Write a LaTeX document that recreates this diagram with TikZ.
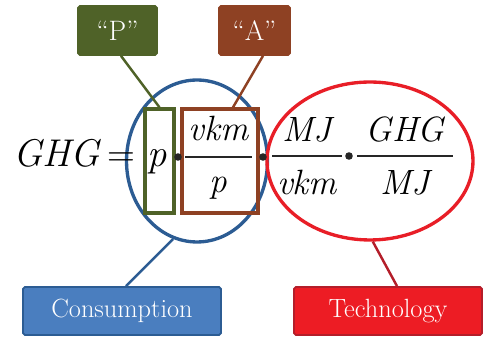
\documentclass[tikz,border=0pt]{standalone}
\usepackage{fontspec}
\usetikzlibrary{shapes.geometric}
\definecolor{pgreen}{HTML}{4F6228}
\definecolor{abrown}{HTML}{8E4123}
\definecolor{cblue}{HTML}{2C5C93}
\definecolor{cfill}{HTML}{4A7EBF}
\definecolor{tred}{HTML}{E81E27}
\definecolor{tfill}{HTML}{ED1C24}
\definecolor{tline}{HTML}{B41E2A}
\begin{document}
\begin{tikzpicture}[x=0.02cm,y=-0.02cm,
  tag/.style={draw=#1,fill=#1,text=white,inner sep=0pt,line width=1pt,
    rounded corners=1pt,font=\fontsize{16}{18}\selectfont},
  label/.style={draw=#1,inner sep=0pt,line width=1.9pt,
    minimum height=2.08cm},
  ring/.style={draw=#1,ellipse,inner sep=0pt,line width=1.9pt},
  big/.style={anchor=base,inner sep=0pt,font=\fontsize{22}{26}\selectfont},
  frac/.style={anchor=base,inner sep=0pt,font=\fontsize{20}{24}\selectfont\itshape},
  bar/.style={line width=1pt,black!85},
  lead/.style={draw=#1,line width=1.4pt}]
\useasboundingbox (0,0) rectangle (484,337);
% circles round the two parts
\node[ring=cblue,minimum width=2.82cm,minimum height=3.24cm] (consring) at (197,161) {};
\node[ring=tred,minimum width=4.12cm,minimum height=3.16cm] (techring) at (370,161) {};
% the boxes round p and vkm/p
\node[label=pgreen,minimum width=0.58cm] (prect) at (159.5,161) {};
\node[label=abrown,minimum width=1.52cm] (arect) at (220,161) {};
% the equation
\node[big,anchor=base west] (lhs) at (13,167) {\itshape GHG};
\node[big] (eq) at (121,167) {=};
\node[big] (pop) at (157,167) {\itshape p};
\fill[black!85] (178,157) circle (3.8);
\draw[bar] (185,157) -- (252,157);
\node[frac] (vkmtop) at (218.5,141) {vkm};
\node[frac] (pbot) at (218.5,193) {p};
\fill[black!85] (263,157) circle (3.8);
\draw[bar] (272,156) -- (342,156);
\node[frac] (mjtop) at (307,142) {MJ};
\node[frac] (vkmbot) at (307,195) {vkm};
\fill[black!85] (349,156) circle (3.8);
\draw[bar] (357,156) -- (453,156);
\node[frac] (ghgtop) at (405,142) {GHG};
\node[frac] (mjbot) at (405,195) {MJ};
% tags and labels
\node[tag=pgreen,minimum width=1.58cm,minimum height=0.98cm] (P) at (117.5,30.5) {``P''};
\node[tag=abrown,minimum width=1.42cm,minimum height=0.98cm] (A) at (254.5,30.5) {``A''};
\node[tag=cblue,fill=cfill,minimum width=3.96cm,minimum height=0.96cm,
  font=\fontsize{15}{18}\selectfont] (cons) at (122,311) {Consumption};
\node[tag=tline,fill=tfill,minimum width=3.76cm,minimum height=0.96cm,
  font=\fontsize{15}{18}\selectfont] (tech) at (388,311) {Technology};
% leader lines
\draw[lead=pgreen] ([xshift=0.07cm]P.south) -- (prect.north);
\draw[lead=abrown] ([xshift=0.17cm]A.south) -- ([xshift=0.26cm]arect.north);
\draw[lead=cblue] ([xshift=0.08cm]cons.north) -- (consring.-107);
\draw[lead=tline] ([xshift=0.18cm]tech.north) -- (techring.-88);
\end{tikzpicture}
\end{document}
